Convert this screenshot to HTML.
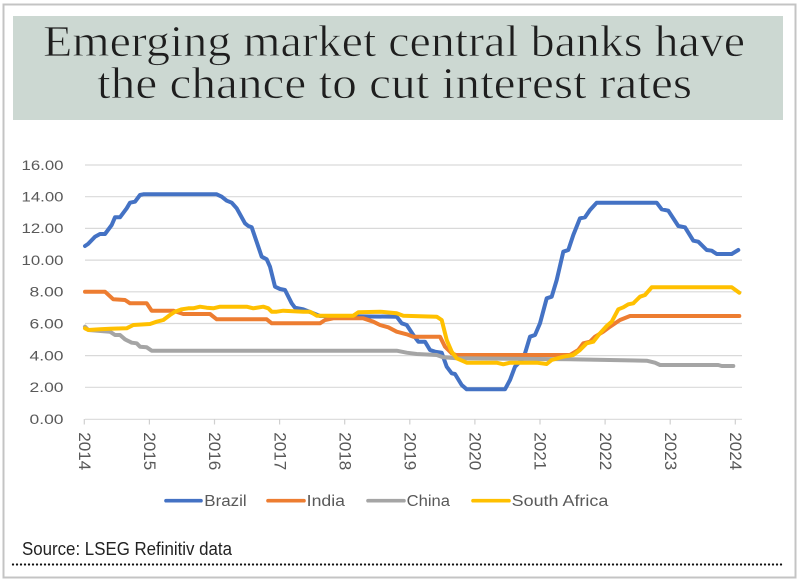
<!DOCTYPE html>
<html>
<head>
<meta charset="utf-8">
<style>
  html,body{margin:0;padding:0;background:#fff;}
  svg{display:block;}
</style>
</head>
<body>
<svg width="800" height="582" viewBox="0 0 800 582" xmlns="http://www.w3.org/2000/svg">
  <rect x="0" y="0" width="800" height="582" fill="#fff"/>
  <!-- outer border -->
  <rect x="3.5" y="4.5" width="792" height="573" fill="none" stroke="#c4c4c4" stroke-width="2"/>
  <!-- title box -->
  <rect x="13" y="16" width="770" height="104" fill="#ccd8d2"/>
  <g font-family="Liberation Serif, serif" font-size="44" fill="#1e1e1e" stroke="#ccd8d2" stroke-width="0.7">
    <text x="394" y="56" text-anchor="middle" textLength="702" lengthAdjust="spacingAndGlyphs">Emerging market central banks have</text>
    <text x="394.5" y="98" text-anchor="middle" textLength="595" lengthAdjust="spacingAndGlyphs">the chance to cut interest rates</text>
  </g>

  <!-- gridlines -->
  <g stroke="#d9d9d9" stroke-width="1.2">
    <line x1="85" y1="165" x2="742" y2="165"/>
    <line x1="85" y1="196.7" x2="742" y2="196.7"/>
    <line x1="85" y1="228.4" x2="742" y2="228.4"/>
    <line x1="85" y1="260.1" x2="742" y2="260.1"/>
    <line x1="85" y1="291.8" x2="742" y2="291.8"/>
    <line x1="85" y1="323.5" x2="742" y2="323.5"/>
    <line x1="85" y1="355.6" x2="742" y2="355.6"/>
    <line x1="85" y1="387.3" x2="742" y2="387.3"/>
    <line x1="85" y1="419.3" x2="742" y2="419.3"/>
  </g>
  <!-- ticks -->
  <g stroke="#d0d0d0" stroke-width="1.2">
    <line x1="84.3" y1="419" x2="84.3" y2="424.5"/>
    <line x1="149.4" y1="419" x2="149.4" y2="424.5"/>
    <line x1="214.5" y1="419" x2="214.5" y2="424.5"/>
    <line x1="279.6" y1="419" x2="279.6" y2="424.5"/>
    <line x1="344.7" y1="419" x2="344.7" y2="424.5"/>
    <line x1="409.8" y1="419" x2="409.8" y2="424.5"/>
    <line x1="474.9" y1="419" x2="474.9" y2="424.5"/>
    <line x1="540" y1="419" x2="540" y2="424.5"/>
    <line x1="605.1" y1="419" x2="605.1" y2="424.5"/>
    <line x1="670.2" y1="419" x2="670.2" y2="424.5"/>
    <line x1="735.3" y1="419" x2="735.3" y2="424.5"/>
  </g>

  <!-- y labels -->
  <g font-family="Liberation Sans, sans-serif" font-size="13.5" fill="#595959" text-anchor="end">
    <text x="63.5" y="169.8" textLength="42" lengthAdjust="spacingAndGlyphs">16.00</text>
    <text x="63.5" y="201.5" textLength="42" lengthAdjust="spacingAndGlyphs">14.00</text>
    <text x="63.5" y="233.2" textLength="42" lengthAdjust="spacingAndGlyphs">12.00</text>
    <text x="63.5" y="264.9" textLength="42" lengthAdjust="spacingAndGlyphs">10.00</text>
    <text x="63.5" y="296.6" textLength="34" lengthAdjust="spacingAndGlyphs">8.00</text>
    <text x="63.5" y="328.3" textLength="34" lengthAdjust="spacingAndGlyphs">6.00</text>
    <text x="63.5" y="360.4" textLength="34" lengthAdjust="spacingAndGlyphs">4.00</text>
    <text x="63.5" y="392.1" textLength="34" lengthAdjust="spacingAndGlyphs">2.00</text>
    <text x="63.5" y="424.1" textLength="34" lengthAdjust="spacingAndGlyphs">0.00</text>
  </g>

  <!-- x labels rotated -->
  <g font-family="Liberation Sans, sans-serif" font-size="17" fill="#595959">
    <text transform="translate(79,432.3) rotate(90)" textLength="38" lengthAdjust="spacingAndGlyphs">2014</text>
    <text transform="translate(144.1,432.3) rotate(90)" textLength="38" lengthAdjust="spacingAndGlyphs">2015</text>
    <text transform="translate(209.2,432.3) rotate(90)" textLength="38" lengthAdjust="spacingAndGlyphs">2016</text>
    <text transform="translate(274.3,432.3) rotate(90)" textLength="38" lengthAdjust="spacingAndGlyphs">2017</text>
    <text transform="translate(339.4,432.3) rotate(90)" textLength="38" lengthAdjust="spacingAndGlyphs">2018</text>
    <text transform="translate(404.5,432.3) rotate(90)" textLength="38" lengthAdjust="spacingAndGlyphs">2019</text>
    <text transform="translate(469.6,432.3) rotate(90)" textLength="38" lengthAdjust="spacingAndGlyphs">2020</text>
    <text transform="translate(534.7,432.3) rotate(90)" textLength="38" lengthAdjust="spacingAndGlyphs">2021</text>
    <text transform="translate(599.8,432.3) rotate(90)" textLength="38" lengthAdjust="spacingAndGlyphs">2022</text>
    <text transform="translate(664.9,432.3) rotate(90)" textLength="38" lengthAdjust="spacingAndGlyphs">2023</text>
    <text transform="translate(730,432.3) rotate(90)" textLength="38" lengthAdjust="spacingAndGlyphs">2024</text>
  </g>

  <!-- series -->
  <g fill="none" stroke-width="4" stroke-linejoin="round" stroke-linecap="round">
    <polyline stroke="#4472c4" points="85,246 88,244 95,236.7 100,234 105,234 111.7,225 115,217.3 120,217.3 126.7,208.3 130,202.7 135,201.7 140,195 143.3,194.3 216.7,194.3 221.7,196.7 226.7,200.7 231.7,202.7 236.7,208.3 245,223.3 248.3,226 251.7,227.3 258.3,246.7 261.7,256.7 266.7,259.3 270,266.7 275,286.7 280,289 285,290 291.7,303.3 295,307.7 303.3,309.3 310,312 320,316 396.7,316.7 401.7,323.3 406.7,325 413.3,335 418.3,341.7 425,341.7 430,350 435,351.7 441.7,352.7 446.7,366.7 451.7,373.3 455,374 461.7,385 466.7,389.3 505,389.3 510,380 515,366.7 521.7,360 525,353.3 530,336.7 535,335 540,323.3 546.7,298.3 551.7,296.7 556.7,280 563.3,251.7 568.3,250 573.3,235 580,218.3 585,217.3 590,210 596.7,202.7 656.7,202.7 661.7,209.3 668.3,210.7 678.3,226 685,227.3 693.3,240.7 698.3,241.7 706.7,250 711.7,250.7 716.7,254 731.7,254 738.3,250"/>
    <polyline stroke="#ed7d31" points="85,291.7 105,291.7 113.3,299.3 125,300 130,303.3 146.7,303.3 151.7,310.7 173.3,310.7 183.3,314 210,314 216.7,319.3 266.7,319.3 271.7,323.3 320,323.3 325,320 333.3,318.3 363.3,318.3 373.3,321.7 380,325 388.3,327.3 396.7,331.7 406.7,334.3 413.3,336.7 440,336.7 445,346.7 451.7,353.3 456,355 570,355 578.3,350 583.3,343.3 590,341.7 595,336.7 603.3,331.7 610,326.7 620,320 630,316 739.3,316"/>
    <polyline stroke="#a5a5a5" points="85,326.7 88.3,330 110,331.7 115,335 120,335 125,339.3 131.7,342.7 136.7,343.3 140,346.7 146.7,347.3 151.7,350.7 396.7,350.7 406.7,352.7 416.7,354 436.7,355 443.3,357.3 456.7,358.3 570,359.3 646.7,360.7 655,362.7 660,365 718.3,365 721.7,366 733.3,366"/>
    <polyline stroke="#ffc000" points="85,328.3 88.3,330 100,329.3 110,328.7 126.7,328.3 133.3,325 150,324 156.7,321.7 163.3,320 170,315 175,311.7 181.7,309.3 188.3,308.3 193.3,308.3 200,306.7 206.7,307.7 213.3,308.3 220,306.7 246.7,306.7 253.3,308.3 263.3,306.7 268.3,308.3 271.7,311.7 276.7,311.7 283.3,310.7 303.3,311.7 310,311.7 316.7,315.7 353.3,315.7 358.3,312.3 380,311.7 396.7,313.3 403.3,315.7 436.7,316.7 441.7,320 446.7,340 451.7,351.7 456.7,358.3 466.7,362.7 496.7,362.7 503.3,364.3 510,362.7 536.7,362.7 546.7,364 551.7,360 563.3,356.7 573.3,355 580,350 586.7,343.3 593.3,341.7 600,333.3 606.7,326 611.7,321.7 618.3,309.3 623.3,307.3 628.3,304.3 633.3,303.3 640,296.7 645,295 651.7,287.3 731.7,287.3 739.3,292.7"/>
  </g>

  <!-- legend -->
  <g stroke-width="3.6" stroke-linecap="round">
    <line x1="166" y1="500.7" x2="201" y2="500.7" stroke="#4472c4"/>
    <line x1="268" y1="500.7" x2="304" y2="500.7" stroke="#ed7d31"/>
    <line x1="368" y1="500.7" x2="404" y2="500.7" stroke="#a5a5a5"/>
    <line x1="473" y1="500.7" x2="509" y2="500.7" stroke="#ffc000"/>
  </g>
  <g font-family="Liberation Sans, sans-serif" font-size="15.5" fill="#595959">
    <text x="204.3" y="506" textLength="42.4" lengthAdjust="spacingAndGlyphs">Brazil</text>
    <text x="306.7" y="506" textLength="38.3" lengthAdjust="spacingAndGlyphs">India</text>
    <text x="406.7" y="506" textLength="43.3" lengthAdjust="spacingAndGlyphs">China</text>
    <text x="511.7" y="506" textLength="96.6" lengthAdjust="spacingAndGlyphs">South Africa</text>
  </g>

  <!-- source -->
  <text x="22" y="555" font-family="Liberation Sans, sans-serif" font-size="18" fill="#222" textLength="210" lengthAdjust="spacingAndGlyphs">Source: LSEG Refinitiv data</text>
  <!-- dotted rule -->
  <line x1="13" y1="564.5" x2="784" y2="564.5" stroke="#111" stroke-width="2.3" stroke-linecap="round" stroke-dasharray="0 4"/>
</svg>
</body>
</html>
